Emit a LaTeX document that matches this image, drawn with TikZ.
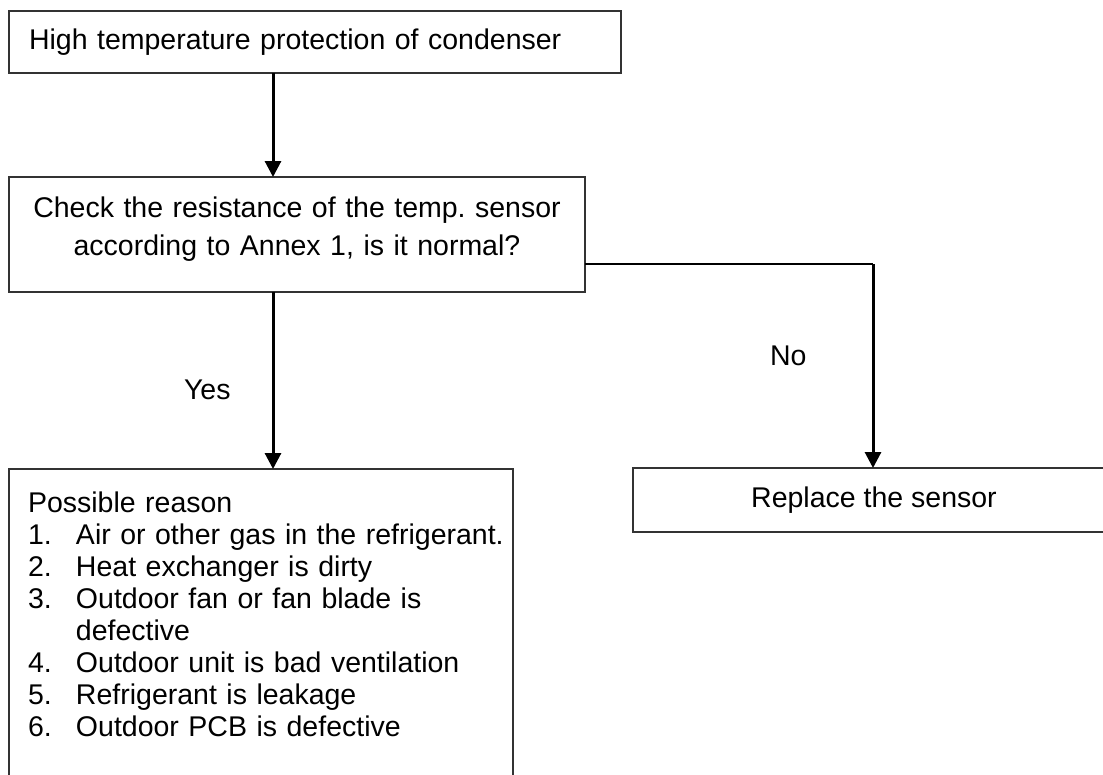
\documentclass[tikz,border=0pt]{standalone}
\usepackage{fontspec}
\setmainfont{Liberation Sans}
\usetikzlibrary{arrows.meta}

\newcommand{\reasonno}[1]{\makebox[48pt][l]{#1}}

\begin{document}
\frenchspacing
\begin{tikzpicture}[
    x=1pt, y=-1pt,
    box/.style={rectangle, draw=black!80, line width=2pt, inner sep=0pt, outer sep=0pt, anchor=north west, font=\fontsize{28.5pt}{32pt}\selectfont},
    arrow/.style={-{Triangle[width=16pt,length=16pt]}, line width=3pt},
    link/.style={line width=2pt},
    lbl/.style={inner sep=0pt, font=\fontsize{28.5pt}{32pt}\selectfont}
]
\useasboundingbox (0,0) rectangle (1103,774);
\clip (0,0) rectangle (1103,774);

\node[box, text width=572pt, inner xsep=20pt, minimum height=62pt, align=left] (fault) at (9,11) {High temperature protection of condenser};
\node[box, text width=536pt, inner xsep=20pt, minimum height=115pt, align=center, font=\fontsize{28.5pt}{38pt}\selectfont] (check) at (9,177) {Check the resistance of the temp. sensor\\according to Annex 1, is it normal?\rule[-16pt]{0pt}{16pt}};
\node[box, text width=472pt, inner xsep=16pt, inner ysep=23pt, align=left] (reasons) at (9,469) {\hspace*{3pt}Possible reason\\
\mbox{\hspace*{3pt}\reasonno{1.}Air or other gas in the refrigerant.}\\
\hspace*{3pt}\reasonno{2.}Heat exchanger is dirty\\
\hspace*{3pt}\reasonno{3.}Outdoor fan or fan blade is\\
\hspace*{51pt}defective\\
\hspace*{3pt}\reasonno{4.}Outdoor unit is bad ventilation\\
\hspace*{3pt}\reasonno{5.}Refrigerant is leakage\\
\hspace*{3pt}\reasonno{6.}Outdoor PCB is defective\\
\mbox{}};
\node[box, minimum width=482pt, minimum height=64pt] (replace) at (633,468) {Replace the sensor};

\coordinate (spine) at (273,0);
\coordinate (noturn) at (873,264);

\draw[arrow] (fault.south -| spine) -- (check.north -| spine);
\draw[arrow] (check.south -| spine) -- node[lbl, pos=0.55, left=41pt] (yes) {Yes} (reasons.north -| spine);
\draw[link] (check.east |- noturn) -- (noturn);
\draw[arrow] (noturn) -- node[lbl, pos=0.45, left=65pt] (no) {No} (replace.north -| noturn);
\end{tikzpicture}
\end{document}
